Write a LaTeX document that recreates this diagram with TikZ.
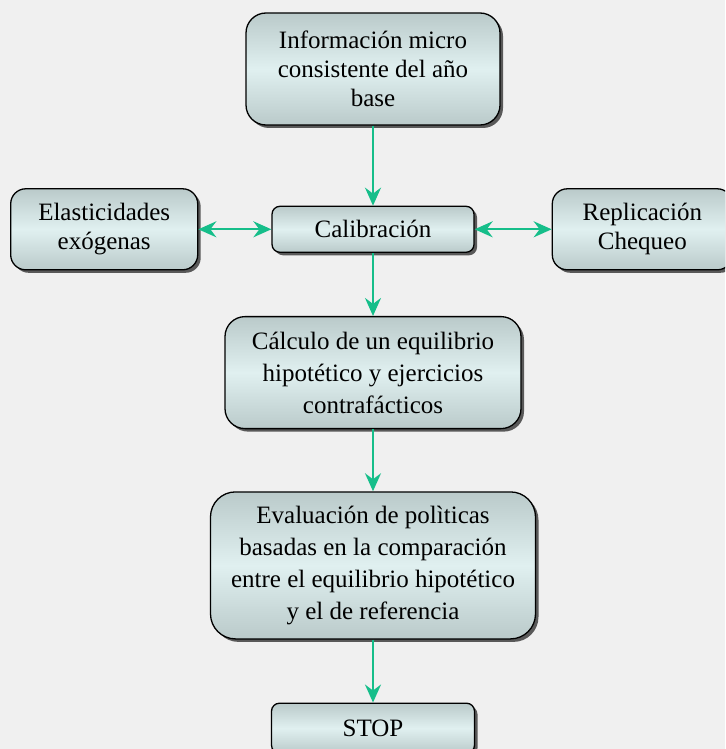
\documentclass[tikz,border=0pt]{standalone}
\usepackage{fontspec}
\setmainfont{Liberation Serif}
\usetikzlibrary{positioning,shadows,arrows.meta}
\definecolor{bggray}{RGB}{240,240,240}
\definecolor{boxedge}{RGB}{186,202,202}
\definecolor{boxmid}{RGB}{224,240,240}
\definecolor{arrgreen}{RGB}{22,190,138}

\begin{document}
\begin{tikzpicture}[x=1pt,y=-1pt,
  every node/.style={rectangle,draw,line width=1.3pt,align=center,inner sep=0pt,
    font=\fontsize{25}{29}\selectfont,top color=boxedge,bottom color=boxedge,middle color=boxmid,
    drop shadow={shadow xshift=3pt,shadow yshift=-3pt,fill=black!65,opacity=1}},
  wide/.style={font=\fontsize{25}{32}\selectfont},
  link/.style={draw=arrgreen,line width=2.2pt,-{Stealth[length=18pt,width=16pt,inset=6pt]}},
  twoway/.style={link,{Stealth[length=18pt,width=16pt,inset=6pt]}-{Stealth[length=18pt,width=16pt,inset=6pt]}}]
\useasboundingbox (0,0) rectangle (725,749);
\clip (0,0) rectangle (725,749);
\fill[bggray] (0,0) rectangle (725,749);

\node[minimum width=254pt,minimum height=112pt,rounded corners=20pt] (info) at (373,69) {Información micro\\consistente del año\\base};
\node[below=80pt of info,minimum width=202pt,minimum height=46pt,rounded corners=8pt] (calib) {Calibración};
\node[left=73pt of calib,minimum width=187pt,minimum height=81pt,rounded corners=15pt] (elast) {Elasticidades\\exógenas};
\node[right=77pt of calib,minimum width=180pt,minimum height=81pt,rounded corners=15pt] (replic) {Replicación\\Chequeo};
\node[wide,below=63pt of calib,minimum width=296pt,minimum height=112pt,rounded corners=20pt] (calc) {Cálculo de un equilibrio\\hipotético y ejercicios\\contrafácticos};
\node[wide,below=62pt of calc,minimum width=325pt,minimum height=147pt,rounded corners=25pt] (eval) {Evaluación de polìticas\\basadas en la comparación\\entre el equilibrio hipotético\\y el de referencia};
\node[below=63pt of eval,minimum width=203pt,minimum height=50pt,rounded corners=8pt] (stop) {STOP};

\draw[link] (info) -- (calib);
\draw[twoway] (elast) -- (calib);
\draw[twoway] (calib) -- (replic);
\draw[link] (calib) -- (calc);
\draw[link] (calc) -- (eval);
\draw[link] (eval) -- (stop);
\end{tikzpicture}
\end{document}
